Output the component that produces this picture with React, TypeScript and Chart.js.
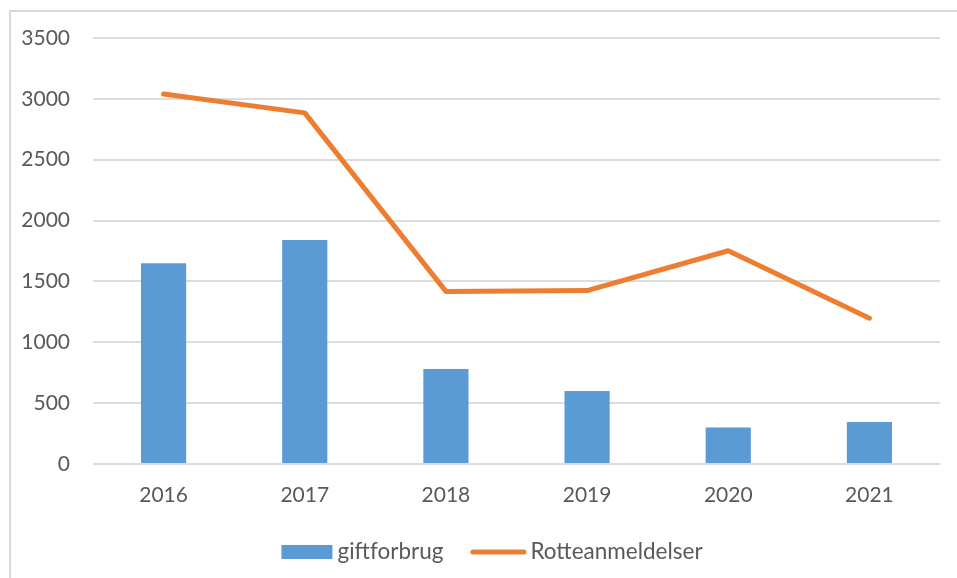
import React, { useEffect, useRef } from "react";
import { Chart, registerables } from "chart.js";

Chart.register(...registerables);

const categories = ["2016", "2017", "2018", "2019", "2020", "2021"];
const giftforbrug = [1650, 1840, 780, 600, 300, 345];
const rotteanmeldelser = [3040, 2885, 1418, 1425, 1752, 1198];
const yTicks = [0, 500, 1000, 1500, 2000, 2500, 3000, 3500];

const FONT = "Lato, 'Open Sans', sans-serif";
const TEXT = "#595959";

const legendPlugin = {
  id: "customLegend",
  afterDraw(chart: any) {
    const ctx = chart.ctx;
    const ds = chart.data.datasets;
    ctx.save();
    ctx.font = `22.5px ${FONT}`;
    ctx.textBaseline = "middle";
    ctx.fillStyle = TEXT;
    const boxW = 51;
    const lineW = 56;
    const gap1 = 5;
    const gapItems = 27;
    const t0 = ctx.measureText(ds[0].label).width;
    const t1 = ctx.measureText(ds[1].label).width;
    const total = boxW + gap1 + t0 + gapItems + lineW + 4 + t1;
    const cx = chart.width / 2 + 8;
    let x = cx - total / 2;
    const y = 540;
    ctx.fillStyle = ds[0].backgroundColor;
    ctx.fillRect(x, y - 7, boxW, 14);
    x += boxW + gap1;
    ctx.fillStyle = TEXT;
    ctx.fillText(ds[0].label, x, y);
    x += t0 + gapItems;
    ctx.strokeStyle = ds[1].borderColor;
    ctx.lineWidth = 5;
    ctx.lineCap = "round";
    ctx.beginPath();
    ctx.moveTo(x + 2.5, y);
    ctx.lineTo(x + lineW - 2.5, y);
    ctx.stroke();
    x += lineW + 4;
    ctx.fillStyle = TEXT;
    ctx.fillText(ds[1].label, x, y);
    ctx.restore();
  },
};

export default function App() {
  const ref = useRef<HTMLCanvasElement>(null);
  useEffect(() => {
    if (!ref.current) return;
    const chart = new Chart(ref.current, {
      type: "bar",
      data: {
        labels: categories,
        datasets: [
          {
            type: "bar",
            label: "giftforbrug",
            data: giftforbrug,
            backgroundColor: "#5b9bd5",
            barPercentage: 0.32,
            categoryPercentage: 1,
            order: 1,
          } as any,
          {
            type: "line",
            label: "Rotteanmeldelser",
            data: rotteanmeldelser,
            borderColor: "#ed7d31",
            backgroundColor: "#ed7d31",
            borderWidth: 5,
            pointRadius: 0,
            tension: 0,
            borderCapStyle: "round",
            borderJoinStyle: "round",
            order: 0,
          } as any,
        ],
      },
      options: {
        animation: false,
        responsive: true,
        maintainAspectRatio: false,
        layout: { padding: { top: 26, right: 17, bottom: 60, left: 0 } },
        plugins: { legend: { display: false }, tooltip: { enabled: false } },
        scales: {
          x: {
            grid: { display: false, drawTicks: false },
            border: { display: false },
            ticks: { color: TEXT, font: { family: FONT, size: 21 }, padding: 19 },
            afterFit: (s: any) => {
              s.height = 54;
              s.paddingLeft = 0;
              s.paddingRight = 0;
            },
          },
          y: {
            min: 0,
            max: 3500,
            afterBuildTicks: (s: any) => {
              s.ticks = yTicks.map((v) => ({ value: v }));
            },
            grid: { color: "#dcdcdc", lineWidth: 2, drawTicks: false },
            border: { display: false },
            ticks: {
              color: TEXT,
              font: { family: FONT, size: 21 },
              padding: 23,
              callback: (v: any) => String(v),
            },
            afterFit: (s: any) => {
              s.width = 82;
              s.paddingTop = 0;
              s.paddingBottom = 0;
            },
          },
        },
      },
      plugins: [legendPlugin],
    });
    return () => chart.destroy();
  }, []);
  return (
    <div style={{ position: "fixed", inset: 0, overflow: "hidden", background: "#fff" }}>
      <div
        style={{
          position: "absolute",
          left: 9,
          top: 10,
          width: 960,
          height: 580,
          border: "2px solid #d9d9d9",
          boxSizing: "border-box",
        }}
      >
        <div style={{ position: "absolute", left: 0, top: 0, width: 946, height: 566 }}>
          <canvas ref={ref} />
        </div>
      </div>
    </div>
  );
}
